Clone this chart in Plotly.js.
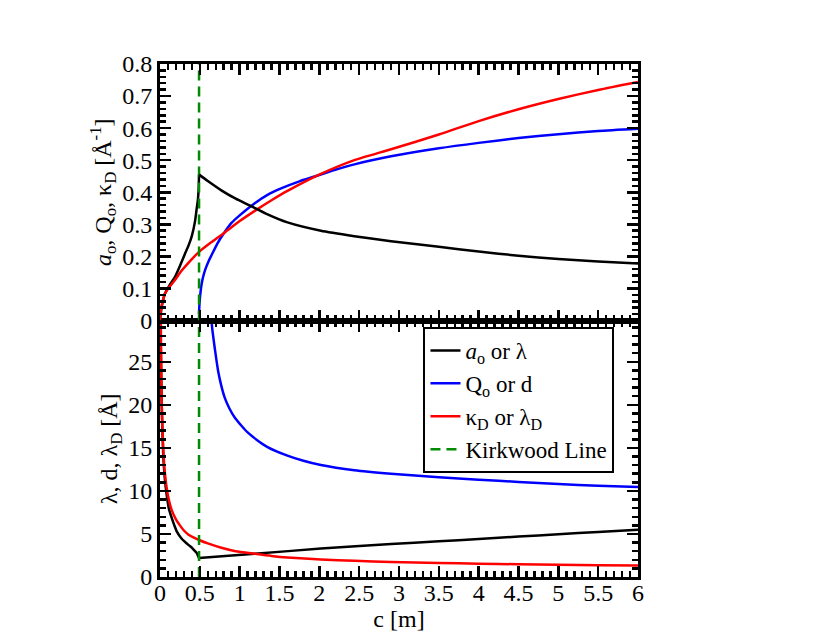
<!DOCTYPE html>
<html>
<head>
<meta charset="utf-8">
<script src="https://cdn.plot.ly/plotly-3.0.1.min.js"></script>
<style>
  body { margin: 0; background: #fff; }
  #graphDiv { width: 830px; height: 642px; }
</style>
</head>
<body>
<div id="graphDiv"></div>
<script>
// Kirkwood line position (c in m)
let kirkwoodC = [0.49, 0.49];

// Top panel: inverse lengths [1/A]
// a_o is split at the Kirkwood cusp
let aoLowC    = [0, 0.02, 0.0625, 0.12, 0.19, 0.25, 0.31, 0.36, 0.40, 0.44, 0.46, 0.475, 0.485, 0.49];
let aoLowVal  = [0, 0.04, 0.084, 0.11, 0.137, 0.17, 0.206, 0.235, 0.264, 0.31, 0.348, 0.375, 0.41, 0.455];
let aoHighC   = [0.49, 0.6, 0.77, 0.95, 1.125, 1.35, 1.6, 2.02, 2.44, 2.9, 3.5, 4, 4.5, 5, 5.5, 6];
let aoHighVal = [0.455, 0.435, 0.406, 0.38, 0.359, 0.331, 0.306, 0.28, 0.263, 0.247, 0.23, 0.215, 0.202, 0.192, 0.184, 0.178];

let qoC   = [0.49, 0.495, 0.505, 0.52, 0.54, 0.57, 0.61, 0.65, 0.72, 0.81, 0.9, 1.0, 1.19, 1.35, 1.52, 1.75, 1.94, 2.2, 2.44, 2.9, 3.5, 4, 4.5, 5, 5.5, 6];
let qoVal = [0.02, 0.05, 0.08, 0.11, 0.135, 0.16, 0.185, 0.205, 0.24, 0.275, 0.305, 0.328, 0.366, 0.392, 0.412, 0.434, 0.449, 0.47, 0.487, 0.512, 0.537, 0.554, 0.569, 0.581, 0.591, 0.598];

let kdC   = [0, 0.005, 0.01, 0.02, 0.04, 0.0625, 0.12, 0.19, 0.27, 0.354, 0.49, 0.65, 0.81, 1.0, 1.19, 1.4, 1.6, 2.02, 2.44, 2.9, 3.5, 4, 4.5, 5, 5.5, 6];
let kdVal = [0, 0.02, 0.033, 0.047, 0.066, 0.084, 0.105, 0.127, 0.155, 0.179, 0.214, 0.245, 0.274, 0.31, 0.342, 0.375, 0.404, 0.457, 0.5, 0.534, 0.58, 0.622, 0.659, 0.691, 0.719, 0.744];

// Bottom panel: lengths [A]
let lamLowC    = [0.005, 0.01, 0.02, 0.04, 0.06, 0.083, 0.11, 0.146, 0.18, 0.21, 0.26, 0.31, 0.36, 0.40, 0.44, 0.46, 0.475, 0.49];
let lamLowVal  = [31, 27, 20.5, 14.3, 11.5, 9.6, 8.0, 6.9, 6.0, 5.3, 4.6, 4.1, 3.7, 3.4, 3.0, 2.8, 2.5, 2.2];
let lamHighC   = [0.49, 1.19, 2.02, 2.9, 3.5, 4, 4.5, 5, 5.5, 6];
let lamHighVal = [2.2, 2.7, 3.3, 3.83, 4.15, 4.42, 4.7, 4.97, 5.23, 5.5];

let dC   = [0.625, 0.645, 0.66, 0.69, 0.73, 0.77, 0.81, 0.87, 0.94, 1.02, 1.1, 1.22, 1.35, 1.6, 1.8, 2.02, 2.44, 2.9, 3.5, 4, 4.5, 5, 5.5, 6];
let dVal = [31, 29.8, 28.5, 26.4, 23.9, 22.2, 20.9, 19.6, 18.5, 17.6, 16.8, 15.9, 15.1, 14.1, 13.5, 13.0, 12.4, 12.0, 11.6, 11.3, 11.05, 10.8, 10.6, 10.45];

let ldC   = [0.008, 0.01, 0.015, 0.02, 0.03, 0.04, 0.06, 0.083, 0.11, 0.146, 0.2, 0.25, 0.3, 0.354, 0.42, 0.49, 0.6, 0.77, 0.95, 1.19, 1.4, 1.6, 2.02, 2.44, 2.9, 3.5, 4, 4.5, 5, 5.5, 6];
let ldVal = [33, 30, 24.5, 21, 17.3, 15, 12.2, 10.4, 9.0, 7.8, 6.7, 6.0, 5.4, 4.95, 4.6, 4.3, 3.9, 3.4, 3.0, 2.7, 2.45, 2.27, 2.03, 1.88, 1.75, 1.63, 1.55, 1.48, 1.42, 1.37, 1.33];

let topRange = [0, 0.8];
let botRange = [0, 29.8];

let names = ['<i>a</i><sub>o</sub> or λ', 'Q<sub>o</sub> or d', 'κ<sub>D</sub> or λ<sub>D</sub>', 'Kirkwood Line'];

function curve(x, y, ax, color, name, group, show) {
    return {
        x: x, y: y, xaxis: 'x' + ax, yaxis: 'y' + ax, mode: 'lines',
        name: name, legendgroup: group, showlegend: show,
        line: {color: color, width: 2.5, shape: 'spline', smoothing: 0.6}
    };
}

function init() {
    let graphDiv = document.getElementById('graphDiv');
    let fnt = {family: 'Liberation Serif', size: 24, color: '#000'};
    let legFnt = {family: 'Liberation Serif', size: 23, color: '#000'};
    let green = '#008b00';
    let dash = {color: green, width: 2.5, dash: '10px,6px'};

    let data = [
        curve(aoLowC, aoLowVal, '2', '#000', names[0], 'a', true),
        curve(qoC, qoVal, '2', '#0000ff', names[1], 'q', true),
        curve(kdC, kdVal, '2', '#ff0000', names[2], 'k', true),
        {x: kirkwoodC, y: topRange, xaxis: 'x2', yaxis: 'y2', mode: 'lines', name: names[3], legendgroup: 'kw', line: dash},
        curve(aoHighC, aoHighVal, '2', '#000', names[0], 'a', false),
        // bottom panel
        curve(lamLowC, lamLowVal, '', '#000', names[0], 'a', false),
        curve(lamHighC, lamHighVal, '', '#000', names[0], 'a', false),
        curve(dC, dVal, '', '#0000ff', names[1], 'q', false),
        curve(ldC, ldVal, '', '#ff0000', names[2], 'k', false),
        {x: kirkwoodC, y: botRange, xaxis: 'x', yaxis: 'y', mode: 'lines', showlegend: false, legendgroup: 'kw', line: dash}
    ];

    let minorTicks = function(step) {
        return {dtick: step, ticklen: 6, tickwidth: 2.5, ticks: 'inside', tickcolor: '#000'};
    };

    let axisBase = {
        showline: true, linecolor: '#000', linewidth: 3, mirror: 'allticks',
        ticks: 'inside', ticklen: 11, tickwidth: 2.5, tickcolor: '#000',
        showgrid: false, zeroline: false, tickfont: fnt
    };

    let layout = {
        width: 830, height: 642,
        margin: {l: 160, r: 192, t: 64, b: 65},
        paper_bgcolor: '#fff', plot_bgcolor: '#fff',
        font: fnt,
        showlegend: true,
        legend: {
            x: 0.751, y: 0.345, xanchor: 'center', yanchor: 'middle',
            bordercolor: '#000', borderwidth: 2, bgcolor: '#fff',
            font: legFnt, traceorder: 'normal', tracegroupgap: 0
        },
        xaxis: Object.assign({}, axisBase, {
            anchor: 'y', range: [0, 6], dtick: 0.5, tick0: 0, minor: minorTicks(0.1),
            ticklabelstandoff: -8,
            title: {text: 'c [m]', font: fnt, standoff: 2}
        }),
        xaxis2: Object.assign({}, axisBase, {
            anchor: 'y2', range: [0, 6], dtick: 0.5, tick0: 0, showticklabels: false, matches: 'x',
            minor: minorTicks(0.1)
        }),
        yaxis: Object.assign({}, axisBase, {
            anchor: 'x', domain: [0, 0.5], range: botRange, dtick: 5, tick0: 0, minor: minorTicks(1),
            title: {text: 'λ, d, λ<sub>D</sub> [Å]', font: fnt, standoff: 4}
        }),
        yaxis2: Object.assign({}, axisBase, {
            anchor: 'x2', domain: [0.5, 1], range: topRange, dtick: 0.1, tick0: 0, minor: minorTicks(0.02),
            title: {text: '<i>a</i><sub>o</sub>, Q<sub>o</sub>, κ<sub>D</sub> [Å<sup>-1</sup>]', font: fnt, standoff: 4}
        })
    };

    Plotly.newPlot(graphDiv, data, layout, {staticPlot: true});
}

init();
</script>
</body>
</html>
